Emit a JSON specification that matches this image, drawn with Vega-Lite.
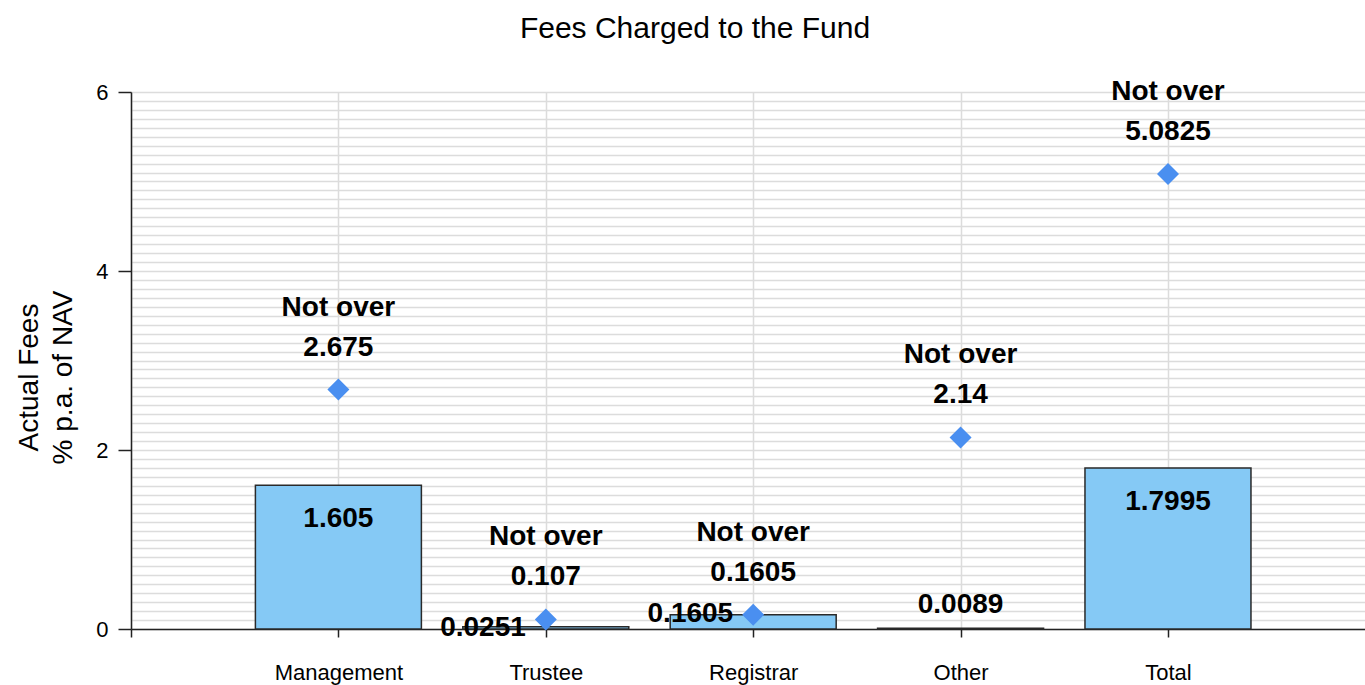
{
  "$schema": "https://vega.github.io/schema/vega-lite/v6.json",
  "width": 1234,
  "height": 537,
  "autosize": {"type": "none"},
  "padding": {"left": 131, "top": 92, "right": 0, "bottom": 56},
  "title": {"text": "Fees Charged to the Fund", "fontSize": 30, "fontWeight": "normal", "font": "Liberation Sans", "color": "#000000", "anchor": "middle", "dx": -53, "baseline": "alphabetic", "offset": 10},
  "config": {"view": {"stroke": null}, "font": "Liberation Sans"},
  "data": {"values": [
    {"category": "Management", "actual": 1.605, "max": 2.675, "maxText": "Not over\n2.675"},
    {"category": "Trustee", "actual": 0.0251, "max": 0.107, "maxText": "Not over\n0.107"},
    {"category": "Registrar", "actual": 0.1605, "max": 0.1605, "maxText": "Not over\n0.1605"},
    {"category": "Other", "actual": 0.0089, "max": 2.14, "maxText": "Not over\n2.14"},
    {"category": "Total", "actual": 1.7995, "max": 5.0825, "maxText": "Not over\n5.0825"}
  ]},
  "encoding": {
    "x": {
      "field": "category", "type": "nominal", "sort": null,
      "scale": {"type": "point", "domain": ["", "Management", "Trustee", "Registrar", "Other", "Total"], "padding": 0.475, "align": 0},
      "axis": {"title": null, "labelAngle": 0, "labelFontSize": 22, "labelColor": "#000000", "labelBaseline": "alphabetic", "labelPadding": 42, "tickSize": 8, "tickColor": "#222222", "tickWidth": 1.5, "domainColor": "#222222", "domainWidth": 1.5, "grid": true, "gridColor": "#dcdcdc", "gridWidth": 1.5}
    }
  },
  "layer": [
    {
      "mark": {"type": "bar", "width": 166, "fill": "#85c9f5", "stroke": "#2a2a2a", "strokeWidth": 1.5},
      "encoding": {
        "y": {
          "field": "actual", "type": "quantitative",
          "scale": {"domain": [0, 6], "nice": false, "zero": true},
          "axis": {"title": ["Actual Fees", "% p.a. of NAV"], "titleFontSize": 28, "titleFontWeight": "normal", "titleColor": "#000000", "titleAngle": -90, "titleBaseline": "alphabetic", "titleAlign": "center", "titleX": -94, "titleY": 285, "titleLineHeight": 34, "tickCount": 200, "values": [0,0.1,0.2,0.3,0.4,0.5,0.6,0.7,0.8,0.9,1,1.1,1.2,1.3,1.4,1.5,1.6,1.7,1.8,1.9,2,2.1,2.2,2.3,2.4,2.5,2.6,2.7,2.8,2.9,3,3.1,3.2,3.3,3.4,3.5,3.6,3.7,3.8,3.9,4,4.1,4.2,4.3,4.4,4.5,4.6,4.7,4.8,4.9,5,5.1,5.2,5.3,5.4,5.5,5.6,5.7,5.8,5.9,6], "labelExpr": "abs(datum.value/2 - round(datum.value/2)) < 0.001 ? datum.value : ''", "labelFontSize": 22, "labelColor": "#000000", "labelPadding": 10, "labelOverlap": false, "labelBaseline": "middle", "tickSize": 13, "tickColor": "#222222", "tickWidth": 1.5, "tickOpacity": {"condition": {"test": "abs(datum.value/2 - round(datum.value/2)) < 0.001", "value": 1}, "value": 0}, "grid": true, "gridColor": "#dcdcdc", "gridWidth": 1.5, "domainColor": "#222222", "domainWidth": 1.5}
        }
      }
    },
    {
      "mark": {"type": "point", "shape": "diamond", "filled": true, "size": 484, "color": "#4a8ff0", "opacity": 1},
      "encoding": {"y": {"field": "max", "type": "quantitative",
        "axis": {"title": ["Actual Fees", "% p.a. of NAV"], "titleFontSize": 28, "titleFontWeight": "normal", "titleColor": "#000000", "titleAngle": -90, "titleBaseline": "alphabetic", "titleAlign": "center", "titleX": -94, "titleY": 285, "titleLineHeight": 34, "tickCount": 200, "values": [0,0.1,0.2,0.3,0.4,0.5,0.6,0.7,0.8,0.9,1,1.1,1.2,1.3,1.4,1.5,1.6,1.7,1.8,1.9,2,2.1,2.2,2.3,2.4,2.5,2.6,2.7,2.8,2.9,3,3.1,3.2,3.3,3.4,3.5,3.6,3.7,3.8,3.9,4,4.1,4.2,4.3,4.4,4.5,4.6,4.7,4.8,4.9,5,5.1,5.2,5.3,5.4,5.5,5.6,5.7,5.8,5.9,6], "labelExpr": "abs(datum.value/2 - round(datum.value/2)) < 0.001 ? datum.value : ''", "labelFontSize": 22, "labelColor": "#000000", "labelPadding": 10, "labelOverlap": false, "labelBaseline": "middle", "tickSize": 13, "tickColor": "#222222", "tickWidth": 1.5, "tickOpacity": {"condition": {"test": "abs(datum.value/2 - round(datum.value/2)) < 0.001", "value": 1}, "value": 0}, "grid": true, "gridColor": "#dcdcdc", "gridWidth": 1.5, "domainColor": "#222222", "domainWidth": 1.5}}}
    },
    {
      "mark": {"type": "text", "fontSize": 28, "fontWeight": "bold", "baseline": "alphabetic", "lineBreak": "\n", "lineHeight": 40, "dy": -74, "align": "center", "color": "#000000"},
      "encoding": {"y": {"field": "max", "type": "quantitative",
        "axis": {"title": ["Actual Fees", "% p.a. of NAV"], "titleFontSize": 28, "titleFontWeight": "normal", "titleColor": "#000000", "titleAngle": -90, "titleBaseline": "alphabetic", "titleAlign": "center", "titleX": -94, "titleY": 285, "titleLineHeight": 34, "tickCount": 200, "values": [0,0.1,0.2,0.3,0.4,0.5,0.6,0.7,0.8,0.9,1,1.1,1.2,1.3,1.4,1.5,1.6,1.7,1.8,1.9,2,2.1,2.2,2.3,2.4,2.5,2.6,2.7,2.8,2.9,3,3.1,3.2,3.3,3.4,3.5,3.6,3.7,3.8,3.9,4,4.1,4.2,4.3,4.4,4.5,4.6,4.7,4.8,4.9,5,5.1,5.2,5.3,5.4,5.5,5.6,5.7,5.8,5.9,6], "labelExpr": "abs(datum.value/2 - round(datum.value/2)) < 0.001 ? datum.value : ''", "labelFontSize": 22, "labelColor": "#000000", "labelPadding": 10, "labelOverlap": false, "labelBaseline": "middle", "tickSize": 13, "tickColor": "#222222", "tickWidth": 1.5, "tickOpacity": {"condition": {"test": "abs(datum.value/2 - round(datum.value/2)) < 0.001", "value": 1}, "value": 0}, "grid": true, "gridColor": "#dcdcdc", "gridWidth": 1.5, "domainColor": "#222222", "domainWidth": 1.5}},
        "text": {"field": "maxText", "type": "nominal"}}
    },
    {
      "transform": [{"filter": "datum.category === 'Management' || datum.category === 'Total'"}],
      "mark": {"type": "text", "fontSize": 28, "fontWeight": "bold", "baseline": "middle", "dy": 34, "align": "center", "color": "#000000"},
      "encoding": {"y": {"field": "actual", "type": "quantitative"}, "text": {"field": "actual", "type": "nominal"}}
    },
    {
      "transform": [{"filter": "datum.category === 'Other'"}],
      "mark": {"type": "text", "fontSize": 28, "fontWeight": "bold", "baseline": "middle", "dy": -23, "align": "center", "color": "#000000"},
      "encoding": {"y": {"field": "actual", "type": "quantitative"}, "text": {"field": "actual", "type": "nominal"}}
    },
    {
      "transform": [{"filter": "datum.category === 'Trustee'"}],
      "mark": {"type": "text", "fontSize": 28, "fontWeight": "bold", "baseline": "middle", "dx": -20, "dy": 1, "align": "right", "color": "#000000"},
      "encoding": {"y": {"field": "actual", "type": "quantitative"}, "text": {"field": "actual", "type": "nominal"}}
    },
    {
      "transform": [{"filter": "datum.category === 'Registrar'"}],
      "mark": {"type": "text", "fontSize": 28, "fontWeight": "bold", "baseline": "middle", "dx": -20, "dy": -1, "align": "right", "color": "#000000"},
      "encoding": {"y": {"field": "actual", "type": "quantitative"}, "text": {"field": "actual", "type": "nominal"}}
    }
  ]
}
